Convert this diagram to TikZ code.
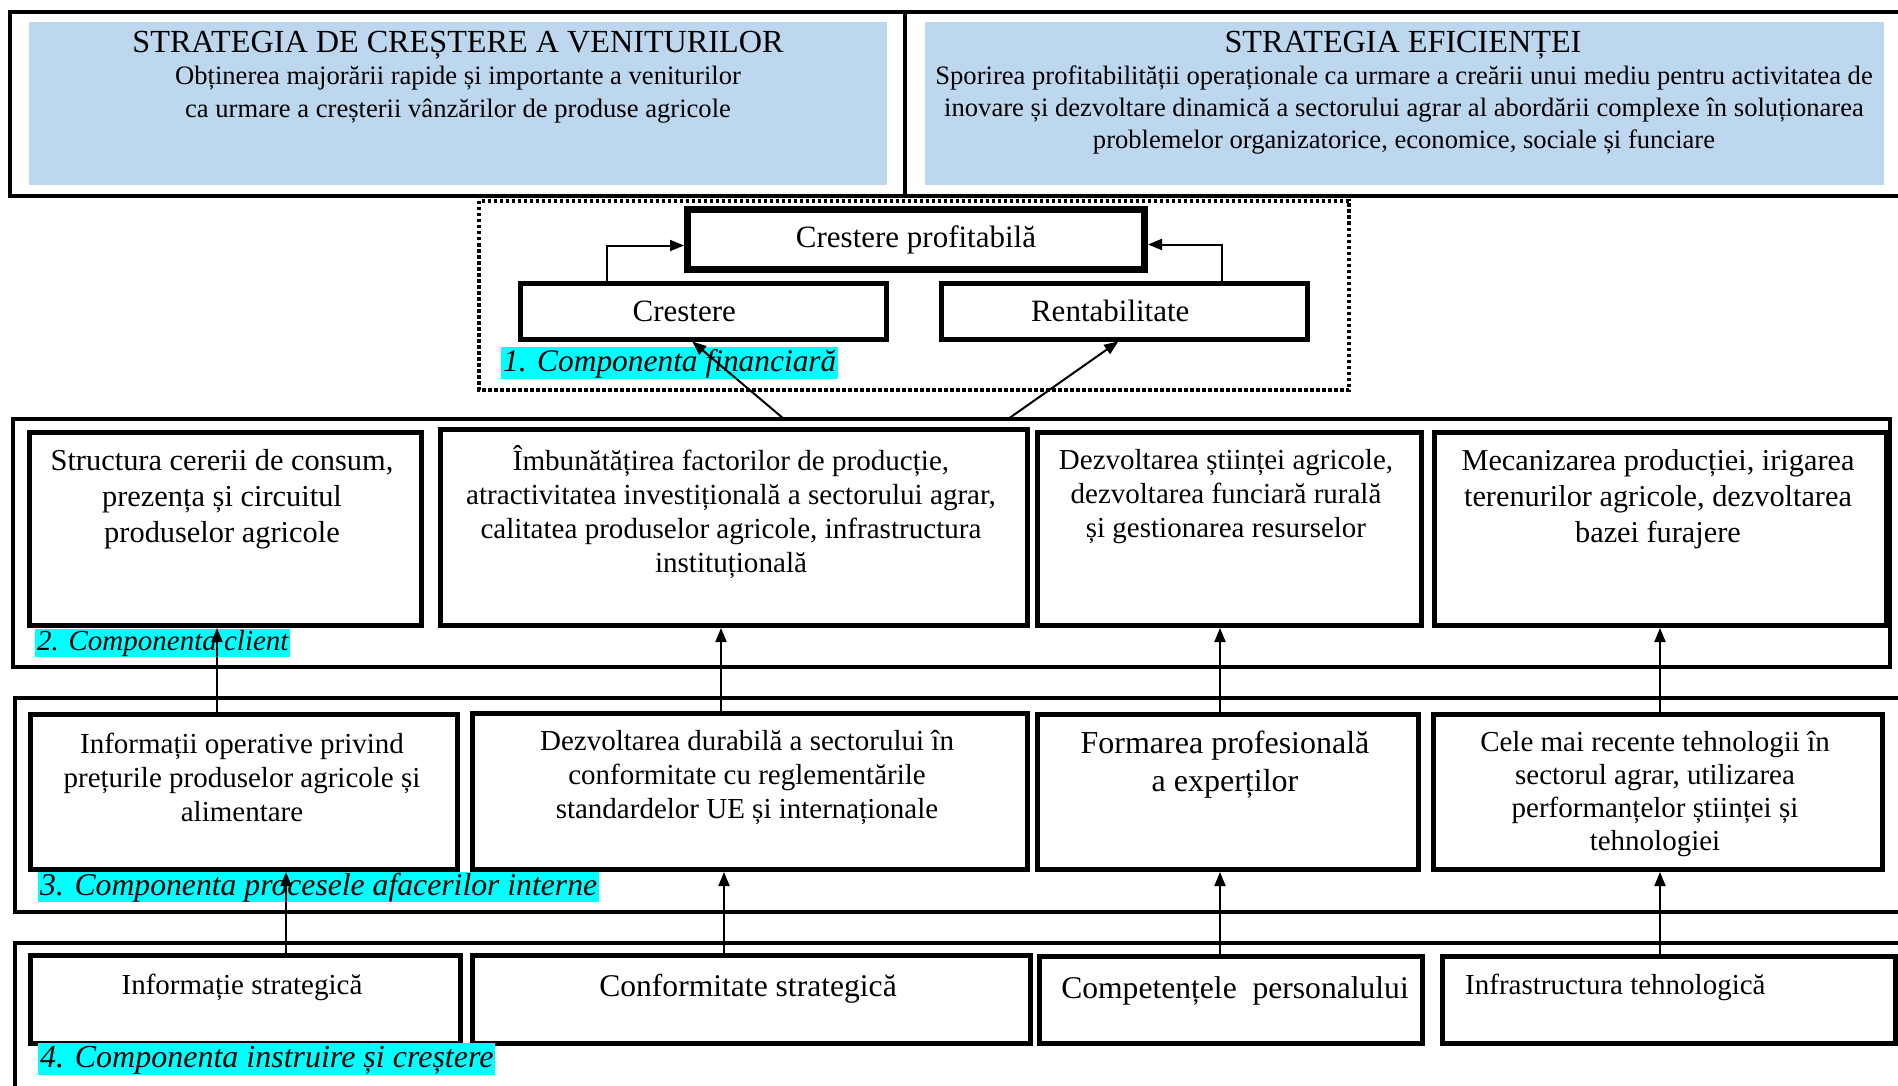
\documentclass[tikz,border=0pt]{standalone}
\usepackage{fontspec}
\setmainfont{Liberation Serif}
\usetikzlibrary{arrows.meta,calc}
\definecolor{stratblue}{RGB}{189,215,238}
\definecolor{labcyan}{RGB}{0,255,255}
\newcommand\fsz[2]{\fontsize{#1}{#2}\selectfont}
\begin{document}
\begin{tikzpicture}[x=1pt,y=-1pt,
  frame/.style={draw=black, line width=4.5pt},
  boxA/.style={draw=black, line width=5pt, fill=white, anchor=north west, inner sep=0pt},
  smallbox/.style={draw=black, line width=4.5pt, fill=white, anchor=north west, inner sep=0pt, font={\fsz{31}{36}}},
  txt/.style={align=center, inner sep=0pt},
  lab/.style={fill=labcyan, anchor=north west, inner xsep=2pt, inner ysep=0pt},
  arr/.style={line width=2pt, -{Triangle[length=14pt,width=11pt]}},
]
\useasboundingbox (0,0) rectangle (1898,1086);
\clip (0,0) rectangle (1898,1086);
\fill[white] (0,0) rectangle (1898,1086);

% ---------------- strategies
\node[fill=stratblue, anchor=north west, inner sep=0pt, minimum width=858pt, minimum height=163pt] (sL) at (29,22) {};
\node[fill=stratblue, anchor=north west, inner sep=0pt, minimum width=959pt, minimum height=163pt] (sR) at (925,22) {};
\draw[frame] (10,12) rectangle (1910,196);
\draw[frame] (905,12) -- (905,196);
\node[txt, font={\fsz{32.2}{37}}] (tL1) at (458,45) {STRATEGIA DE CREȘTERE A VENITURILOR};
\node[txt, font={\fsz{26.6}{33}}] (tL2) at (458,95) {Obținerea majorării rapide și importante a veniturilor\\ca urmare a creșterii vânzărilor de produse agricole};
\node[txt, font={\fsz{32.2}{37}}] (tR1) at (1403,45) {STRATEGIA EFICIENȚEI};
\node[txt, font={\fsz{26.6}{32}}] (tR2) at (1404,110) {Sporirea profitabilității operaționale ca urmare a creării unui mediu pentru activitatea de\\inovare și dezvoltare dinamică a sectorului agrar al abordării complexe în soluționarea\\problemelor organizatorice, economice, sociale și funciare};

% ---------------- financial component
\draw[line width=4pt, dash pattern=on 3.5pt off 2.5pt] (479,201) rectangle (1349,390);
\fill[gray!45] (689,211) rectangle (1146,271);
\node[smallbox, line width=7pt, minimum width=457pt, minimum height=60pt] (cp) at (684,206) {Crestere profitabilă};
\node[smallbox, minimum width=366pt, minimum height=56pt] (cr) at (518,281) {Crestere\hspace*{38pt}};
\node[smallbox, minimum width=366pt, minimum height=56pt] (rt) at (939,281) {Rentabilitate\hspace*{28pt}};
\node[lab, font={\fsz{31.4}{36}\itshape}, text height=24pt, text depth=8pt] (l1) at (501,347) {1. Componenta financiară};
\draw[arr] ([xshift=-96pt]cr.north) |- ([yshift=-6pt]cp.west);
\draw[arr] ([xshift=98pt]rt.north) |- ([yshift=-5pt]cp.east);

% ---------------- frames of levels
\draw[frame] (13,419) rectangle (1890,667);
\draw[frame] (15,698) rectangle (1910,912);
\draw[frame] (15,943) rectangle (1910,1100);

% ---------------- level 2
\node[boxA, minimum width=392pt, minimum height=193pt] (b21) at (27,430) {};
\node[boxA, minimum width=587pt, minimum height=196pt] (b22) at (438,427) {};
\node[boxA, minimum width=384pt, minimum height=193pt] (b23) at (1035,430) {};
\node[boxA, minimum width=452pt, minimum height=193pt] (b24) at (1432,430) {};
\node[txt, font={\fsz{30.4}{36}}] (t21) at (222,499) {Structura cererii de consum,\\prezența și circuitul\\produselor agricole};
\node[txt, font={\fsz{29.1}{34}}] (t22) at (731,512) {Îmbunătățirea factorilor de producție,\\atractivitatea investițională a sectorului agrar,\\calitatea produselor agricole, infrastructura\\instituțională};
\node[txt, font={\fsz{29}{34}}] (t23) at (1226,497) {Dezvoltarea științei agricole,\\dezvoltarea funciară rurală\\și gestionarea resurselor};
\node[txt, font={\fsz{30.3}{36}}] (t24) at (1658,499) {Mecanizarea producției, irigarea\\terenurilor agricole, dezvoltarea\\bazei furajere};
\node[lab, font={\fsz{29}{34}\itshape}, text height=21pt, text depth=7pt] (l2) at (35,629) {2. Componenta client};

% ---------------- level 3
\node[boxA, line width=5pt, minimum width=427pt, minimum height=155pt] (b31) at (28,712) {};
\node[boxA, line width=5pt, minimum width=555pt, minimum height=156pt] (b32) at (470,711) {};
\node[boxA, line width=5pt, minimum width=381pt, minimum height=155pt] (b33) at (1035,712) {};
\node[boxA, line width=5pt, minimum width=449pt, minimum height=155pt] (b34) at (1431,712) {};
\node[txt, font={\fsz{29}{34}}] (t31) at (242,777) {Informații operative privind\\prețurile produselor agricole și\\alimentare};
\node[txt, font={\fsz{29}{34}}] (t32) at (747,777) {Dezvoltarea durabilă a sectorului în\\conformitate cu reglementările\\standardelor UE și internaționale};
\node[txt, font={\fsz{32}{38}}] (t33) at (1225,765) {Formarea profesională\\a experților};
\node[txt, font={\fsz{29}{33}}] (t34) at (1655,794) {Cele mai recente tehnologii în\\sectorul agrar, utilizarea\\performanțelor științei și\\tehnologiei};
\node[lab, font={\fsz{31.7}{36}\itshape}, text height=23pt, text depth=7pt] (l3) at (38,872) {3. Componenta procesele afacerilor interne};

% ---------------- level 4
\node[boxA, minimum width=430pt, minimum height=88pt] (b41) at (28,953) {};
\node[boxA, minimum width=558pt, minimum height=88pt] (b42) at (470,953) {};
\node[boxA, minimum width=383pt, minimum height=87pt] (b43) at (1037,954) {};
\node[boxA, minimum width=453pt, minimum height=87pt] (b44) at (1440,954) {};
\node[txt, font={\fsz{29}{34}}] (t41) at (242,987) {Informație strategică};
\node[txt, font={\fsz{31.6}{36}}] (t42) at (748,989) {Conformitate strategică};
\node[txt, font={\fsz{31.6}{36}}] (t43) at (1235,991) {Competențele\ \ personalului};
\node[txt, anchor=west, font={\fsz{29}{34}}] (t44) at (1465,987) {Infrastructura tehnologică};
\node[lab, font={\fsz{32}{36}\itshape}, text height=24pt, text depth=8pt] (l4) at (38,1043) {4. Componenta instruire și creștere};

% ---------------- connectors
\coordinate (fa) at (784,419);
\coordinate (fb) at (1008,419);
\draw[arr] (fa) -- ([xshift=-11pt]cr.south);
\draw[arr] (fb) -- ([xshift=-6pt]rt.south);

\coordinate (xa) at (217,0);
\coordinate (xb) at (721,0);
\coordinate (xc) at (1220,0);
\coordinate (xd) at (1660,0);
\coordinate (xe) at (286,0);
\coordinate (xf) at (724,0);

\draw[arr] (b31.north -| xa) -- (b21.south -| xa);
\draw[arr] (b32.north -| xb) -- (b22.south -| xb);
\draw[arr] (b33.north -| xc) -- (b23.south -| xc);
\draw[arr] (b34.north -| xd) -- (b24.south -| xd);

\draw[arr] (b41.north -| xe) -- (b31.south -| xe);
\draw[arr] (b42.north -| xf) -- (b32.south -| xf);
\draw[arr] (b43.north -| xc) -- (b33.south -| xc);
\draw[arr] (b44.north -| xd) -- (b34.south -| xd);
\end{tikzpicture}
\end{document}
